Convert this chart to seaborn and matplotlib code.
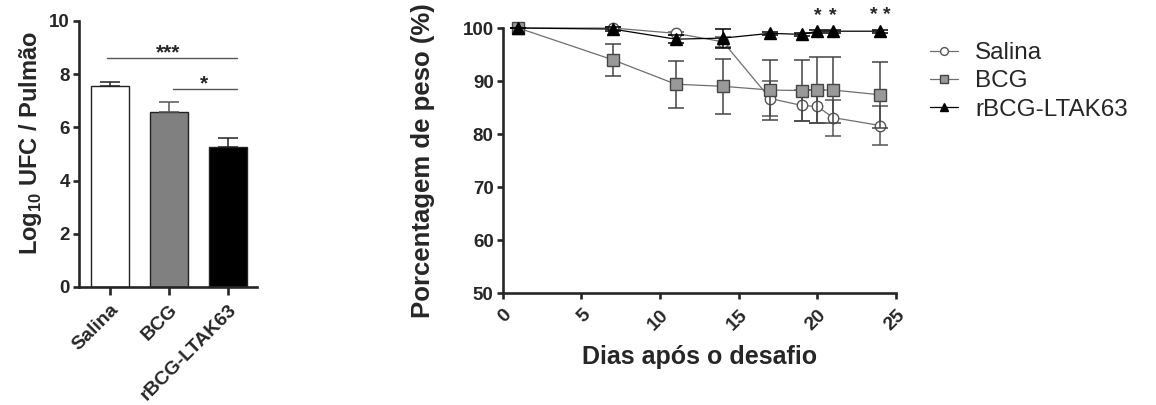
import numpy as np
import pandas as pd
import matplotlib
matplotlib.use("Agg")
import matplotlib.pyplot as plt
import seaborn as sns

# ---- bacterial load in lungs (log10 CFU) ----
grupos = ["Salina", "BCG", "rBCG-LTAK63"]
ufc_media = [7.56, 6.59, 5.27]
ufc_erro = [0.16, 0.35, 0.33]
cores_barras = ["#ffffff", "#808080", "#000000"]

# ---- weight after challenge (% of initial) ----
dias = [1, 7, 11, 14, 17, 19, 20, 21, 24]
salina_peso = [100.0, 100.0, 99.0, 97.4, 86.7, 85.4, 85.2, 83.1, 81.6]
salina_erro = [0.0, 0.2, 0.3, 1.0, 3.3, 3.0, 3.2, 3.4, 3.7]
bcg_peso = [100.0, 94.0, 89.4, 89.0, 88.3, 88.2, 88.3, 88.3, 87.4]
bcg_erro = [0.0, 3.0, 4.4, 5.2, 5.7, 5.8, 6.2, 6.2, 6.2]
rbcg_peso = [100.0, 99.8, 97.9, 98.1, 99.0, 98.8, 99.4, 99.4, 99.4]
rbcg_erro = [0.0, 0.3, 0.7, 1.8, 0.3, 0.3, 0.3, 0.3, 0.3]
marcas_signif = {20: "*", 21: "*", 24: "* *"}

sns.set_theme(style="ticks")
plt.rcParams["font.family"] = ["Liberation Sans", "DejaVu Sans"]
plt.rcParams["mathtext.fontset"] = "custom"
plt.rcParams["mathtext.rm"] = "Liberation Sans:bold"
plt.rcParams["mathtext.bf"] = "Liberation Sans:bold"
plt.rcParams["axes.linewidth"] = 1.9
plt.rcParams["xtick.major.width"] = 1.9
plt.rcParams["ytick.major.width"] = 1.9
plt.rcParams["xtick.major.size"] = 4.5
plt.rcParams["ytick.major.size"] = 4.5
plt.rcParams["xtick.direction"] = "out"
plt.rcParams["ytick.direction"] = "out"

fig = plt.figure(figsize=(11.56, 4.05), dpi=100)
ax1 = fig.add_axes([0.0683, 0.2914, 0.154, 0.657])
ax2 = fig.add_axes([0.4349, 0.2765, 0.3402, 0.6543])

# ---------------- bar chart ----------------
df_ufc = pd.DataFrame({"grupo": grupos, "ufc": ufc_media})
sns.barplot(data=df_ufc, x="grupo", y="ufc", hue="grupo", palette=cores_barras,
            legend=False, ax=ax1, width=0.65, edgecolor="#222222", linewidth=1.0,
            errorbar=None)
xpos = np.arange(len(grupos))
for i in range(len(grupos)):
    cor_err = "#555555" if i == 1 else "#222222"
    ax1.errorbar(xpos[i], ufc_media[i], yerr=[[0], [ufc_erro[i]]], fmt="none",
                 ecolor=cor_err, elinewidth=1.1, capsize=7, capthick=1.1, zorder=1)

ax1.set_xlim(-0.53, 2.5)
ax1.set_ylim(0, 10)
ax1.set_yticks([0, 2, 4, 6, 8, 10])
ax1.set_xlabel("")
ax1.set_ylabel(r"Log$_{\mathbf{10}}$ UFC / Pulmão", fontsize=17, fontweight="bold", labelpad=4)
ax1.yaxis.label.set_y(0.541)
ax1.set_xticks(xpos)
ax1.set_xticklabels(grupos, rotation=45, ha="right", rotation_mode="anchor",
                    fontsize=14, fontweight="bold")
for t in ax1.get_yticklabels():
    t.set_fontsize(13.5)
    t.set_fontweight("bold")
ax1.tick_params(axis="x", length=6, pad=4)
ax1.tick_params(axis="y", pad=2)
sns.despine(ax=ax1)

# significance brackets
ax1.plot([-0.05, 2.16], [8.6, 8.6], color="#555555", lw=1.0)
ax1.text(0.99, 8.6, "***", ha="center", va="baseline", fontsize=15, fontweight="bold")
ax1.plot([1.07, 2.16], [7.44, 7.44], color="#555555", lw=1.0)
ax1.text(1.6, 7.44, "*", ha="center", va="baseline", fontsize=15, fontweight="bold")

# ---------------- weight curves ----------------
series = [
    ("Salina", salina_peso, salina_erro,
     dict(color="#6e6e6e", marker="o", markerfacecolor="white", markeredgecolor="#555555",
          markersize=7.5, markeredgewidth=1.0), "#555555"),
    ("BCG", bcg_peso, bcg_erro,
     dict(color="#6e6e6e", marker="s", markerfacecolor="#999999", markeredgecolor="#444444",
          markersize=8.5, markeredgewidth=1.0), "#444444"),
    ("rBCG-LTAK63", rbcg_peso, rbcg_erro,
     dict(color="#000000", marker="^", markerfacecolor="#000000", markeredgecolor="#000000",
          markersize=8.5, markeredgewidth=1.0), "#000000"),
]
for z, (nome, vals, errs, estilo, cor_err) in enumerate(series):
    ax2.errorbar(dias, vals, yerr=errs, fmt="none", ecolor=cor_err, elinewidth=1.1,
                 capsize=6, capthick=1.1, zorder=2 + 2 * z, clip_on=False)
    sns.lineplot(x=dias, y=vals, ax=ax2, label=nome, linewidth=0.9, errorbar=None,
                 zorder=3 + 2 * z, clip_on=False, **estilo)

for d, s in marcas_signif.items():
    ax2.text(d, 101.5, s, ha="center", va="baseline", fontsize=14, fontweight="bold")

ax2.set_xlim(0, 25)
ax2.set_ylim(50, 100)
ax2.set_xticks([0, 5, 10, 15, 20, 25])
ax2.set_yticks([50, 60, 70, 80, 90, 100])
ax2.set_xticklabels(["0", "5", "10", "15", "20", "25"], rotation=45, ha="right",
                    rotation_mode="anchor", fontsize=14, fontweight="bold")
for t in ax2.get_yticklabels():
    t.set_fontsize(13.5)
    t.set_fontweight("bold")
ax2.tick_params(axis="x", pad=5)
ax2.tick_params(axis="y", pad=2)
ax2.set_xlabel("Dias após o desafio", fontsize=18, fontweight="bold", labelpad=8)
ax2.set_ylabel("Porcentagem de peso (%)", fontsize=18.5, fontweight="bold", labelpad=20)
sns.despine(ax=ax2)

ax2.legend(loc="upper left", bbox_to_anchor=(0.8045, 0.896), bbox_transform=fig.transFigure,
           frameon=False, fontsize=17.5, handlelength=1.15, handletextpad=0.7,
           labelspacing=0.26, borderpad=0, borderaxespad=0, markerscale=0.75)

fig.savefig("out.png", dpi=100)
